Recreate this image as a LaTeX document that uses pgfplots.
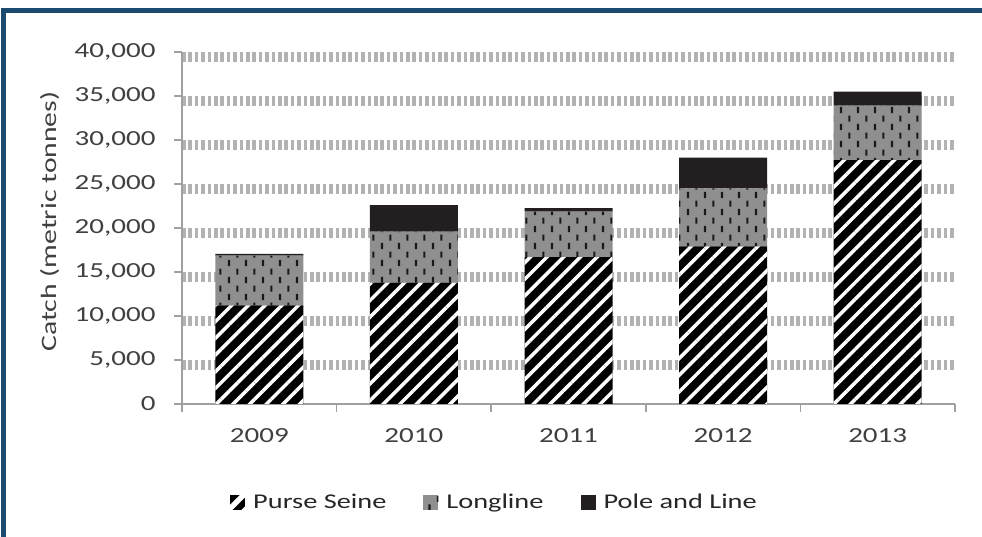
\documentclass[border=0pt]{standalone}
\usepackage{pgfplots}
\pgfplotsset{compat=1.18}
\usepackage{fontspec}
\setmainfont{Carlito}[FakeStretch=1.35]
\usetikzlibrary{patterns,patterns.meta}

\definecolor{framebl}{HTML}{1A4A70}
\definecolor{gridgr}{HTML}{B2B2B2}
\definecolor{axisgr}{HTML}{A0A0A0}
\definecolor{llgray}{HTML}{8F8F8F}
\definecolor{plblack}{HTML}{231F20}
\definecolor{txt}{HTML}{404040}

% staggered short vertical dashes for the longline segments
\pgfdeclarepatternformonly{longline dashes}{\pgfpointorigin}{\pgfpoint{17.4pt}{16.8pt}}{\pgfpoint{17.4pt}{16.8pt}}{%
  \pgfpathrectangle{\pgfpoint{3pt}{2pt}}{\pgfpoint{2.2pt}{6.2pt}}%
  \pgfpathrectangle{\pgfpoint{11.7pt}{10.4pt}}{\pgfpoint{2.2pt}{6.2pt}}%
  \pgfusepath{fill}}

\pgfplotstableread{
x  purse  longline  pole
0  11200  5650      200
1  13800  5800      3000
2  16700  5150      400
3  17900  6600      3500
4  27700  6200      1600
}\catchdata

\begin{document}
\begin{tikzpicture}
\path[use as bounding box, fill=white] (0,0) rectangle (982pt,537pt);
\draw[framebl, line width=5pt] (3pt,0) -- (3pt,526pt) -- (982pt,526pt);
\begin{axis}[
  at={(182pt,133pt)}, anchor=south west,
  scale only axis, width=773pt, height=352pt,
  ybar stacked, bar width=88pt,
  xmin=-0.5, xmax=4.5, ymin=0, ymax=40000,
  axis x line*=bottom, axis y line*=left,
  axis line style={axisgr, line width=1.5pt},
  tick align=outside, major tick length=8pt,
  tick style={axisgr, line width=1.5pt},
  xtick={-0.5,0.5,...,4.5}, x tick label as interval,
  xticklabels={2009,2010,2011,2012,2013},
  ytick={5000,10000,...,40000},
  extra y ticks={0}, extra y tick style={grid=none},
  scaled y ticks=false,
  /pgf/number format/.cd, assume math mode=true, 1000 sep={,}, /pgfplots/.cd,
  ticklabel style={font=\fontsize{21.5}{24}\selectfont, text=txt},
  yticklabel style={xshift=-15pt},
  xticklabel style={yshift=-13pt},
  ymajorgrids,
  major grid style={gridgr, line width=10pt, dash pattern=on 3.6pt off 2.8pt, yshift=-5pt},
  ylabel={Catch (metric tonnes)},
  ylabel style={font=\fontsize{22}{26}\selectfont, text=txt, at={(axis description cs:-0.171,0.518)}, anchor=center, rotate=0},
  legend columns=-1,
  legend style={draw=none, fill=none, at={(0.403,-0.279)}, anchor=center,
    font=\fontsize{21}{24}\selectfont, text=black!85,
    nodes={inner sep=0pt},
    /tikz/every even column/.append style={column sep=37pt},
    /tikz/every odd column/.append style={column sep=8pt}},
  legend image code/.code={\path[#1, draw=none] (0pt,-7.5pt) rectangle (15pt,7.5pt);},
]
\addplot[fill=black, draw=none,
  postaction={pattern={Lines[angle=45, distance=11.8pt, line width=3.5pt]}, pattern color=white},
  legend image code/.code={%
    \fill[black] (0pt,-7.5pt) rectangle (15pt,7.5pt);
    \begin{scope}
      \clip (0pt,-7.5pt) rectangle (15pt,7.5pt);
      \draw[white, line width=3.5pt] (-2pt,-9.5pt) -- (17pt,9.5pt);
    \end{scope}}]
  table[x=x, y=purse] {\catchdata};
\addplot[fill=llgray, draw=none,
  postaction={pattern=longline dashes, pattern color=black!90}]
  table[x=x, y=longline] {\catchdata};
\addplot[fill=plblack, draw=none]
  table[x=x, y=pole] {\catchdata};
\legend{Purse Seine, Longline, Pole and Line}
\end{axis}
\end{tikzpicture}
\end{document}
